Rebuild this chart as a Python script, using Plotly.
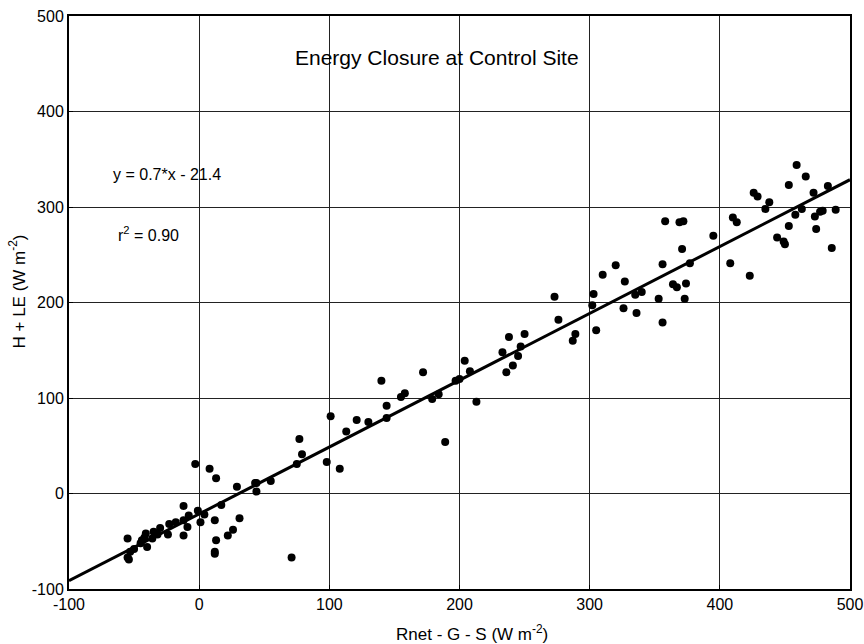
import plotly.graph_objects as go

# measured energy fluxes (W m-2)
rnet_gs = [
    -55, -55, -54, -50, -53, -45, -44, -42, -41, -40, -36, -35, -32, -30,
    -24, -23, -18, -12, -12, -9, -12, -8, -3, -1, 1, 4, 8, 12, 13, 13,
    12, 12, 17, 22, 26, 31, 29, 44, 44, 71,
    43, 55, 75, 77, 79, 98, 101, 108, 113, 121, 130, 140, 144, 144,
    155, 158, 172, 179, 184, 189, 197, 200, 204, 208, 213,
    233, 236, 238, 241, 245, 247, 250, 273, 276, 287, 289, 302, 303, 305,
    310, 320, 326, 327, 335, 340, 336, 353, 356, 356, 358,
    369, 372, 371, 377, 364, 367, 374, 373, 395, 408, 423, 410, 413,
    426, 429, 435, 438, 444, 449, 450, 453, 459, 466, 458, 453, 463,
    472, 473, 474, 477, 479, 483, 489, 486,
]
h_le = [
    -47, -67, -69, -58, -61, -52, -49, -46, -42, -56, -47, -40, -43, -36,
    -43, -32, -30, -13, -44, -35, -28, -23, 31, -18, -30, -22, 26, -28, 16, -49,
    -61, -63, -12, -44, -38, -26, 7, 11, 2, -67,
    11, 13, 31, 57, 41, 33, 81, 26, 65, 77, 75, 118, 92, 79,
    101, 105, 127, 99, 104, 54, 118, 120, 139, 128, 96,
    148, 127, 164, 134, 144, 154, 167, 206, 182, 160, 167, 197, 209, 171,
    229, 239, 194, 222, 208, 211, 189, 204, 240, 179, 285,
    284, 285, 256, 241, 219, 216, 220, 204, 270, 241, 228, 289, 284,
    315, 311, 298, 305, 268, 264, 261, 323, 344, 332, 292, 280, 298,
    315, 290, 277, 295, 296, 322, 297, 257,
]

tick_vals = [-100, 0, 100, 200, 300, 400, 500]
tick_text = ["-100", "0", "100", "200", "300", "400", "500"]

# linear fit reported on the chart
slope = 0.7
intercept = -21.4
fit_x = [-100, 500]
fit_y = [slope * v + intercept for v in fit_x]

font_name = "Liberation Sans, Arial"

fig = go.Figure()
fig.add_trace(go.Scatter(x=rnet_gs, y=h_le, mode="markers",
                         marker=dict(color="black", size=8), showlegend=False))
fig.add_trace(go.Scatter(x=fit_x, y=fit_y, mode="lines",
                         line=dict(color="black", width=3), showlegend=False))

axis_style = dict(showline=True, linecolor="black", linewidth=2, mirror=True,
                  showgrid=True, gridcolor="#222", gridwidth=1,
                  zeroline=False, ticks="inside", ticklen=4, tickcolor="black",
                  automargin=False, ticklabeloverflow="allow",
                  tickvals=tick_vals, ticktext=tick_text,
                  tickfont=dict(family=font_name, size=16, color="black"))

fig.update_xaxes(range=[-100, 500], **axis_style)
fig.update_yaxes(range=[-100, 500], **axis_style)

def note(x, y, text, size, angle=0):
    fig.add_annotation(x=x, y=y, xref="paper", yref="paper", showarrow=False,
                       xanchor="center", yanchor="middle", textangle=angle,
                       text=text, font=dict(family=font_name, size=size, color="black"))

note(0.471, 0.928, "Energy Closure at Control Site", 21)
note(0.125, 0.724, "y = 0.7*x - 21.4", 16)
note(0.102, 0.62, "r<sup>2</sup> = 0.90", 16)
note(0.516, -0.077, "Rnet - G - S (W m<sup>-2</sup>)", 17)
note(-0.066, 0.52, "H + LE (W m<sup>-2</sup>)", 17, angle=-90)

fig.update_layout(width=864, height=644, plot_bgcolor="white", paper_bgcolor="white",
                  margin=dict(l=69, r=14, t=16, b=55), font=dict(family=font_name))

# drop the default body margin so the figure fills the window exactly
fig.write_html("out.html", config={"displayModeBar": False},
               post_script="document.body.style.margin='0';")
